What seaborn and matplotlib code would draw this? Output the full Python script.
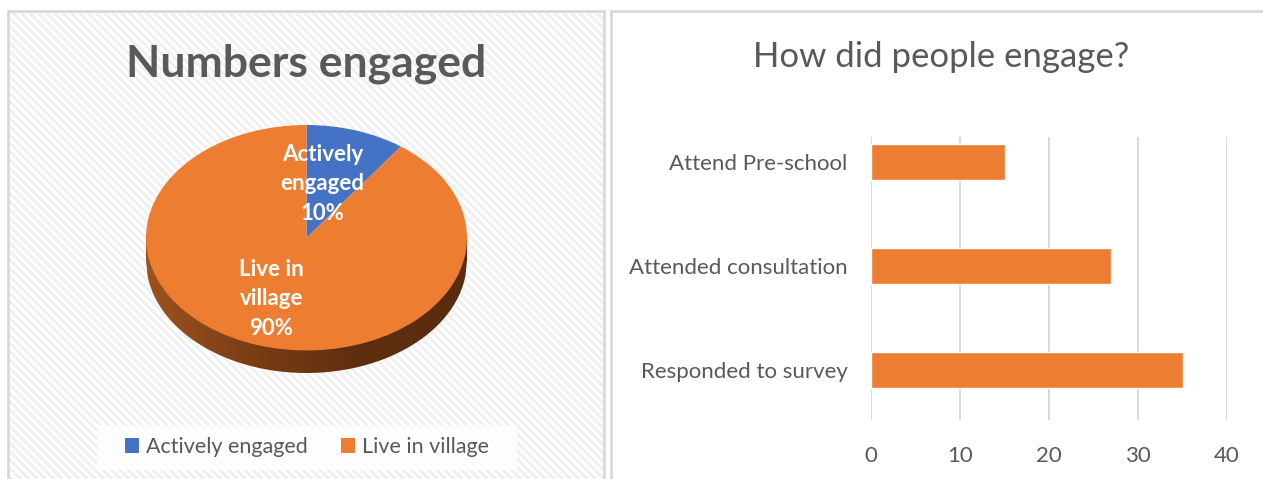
import textwrap
import numpy as np
import matplotlib.pyplot as plt
import seaborn as sns
from matplotlib.patches import Rectangle, Polygon
from matplotlib.colors import LinearSegmentedColormap

# pie data (left panel)
pie_labels = ['Actively engaged', 'Live in village']
pie_values = [10, 90]
pie_colors = ['#4472C4', '#ED7D31']

# bar data (right panel)
bar_labels = ['Attend Pre-school', 'Attended consultation', 'Responded to survey']
bar_values = [15, 27, 35]
bar_ticks = [0, 10, 20, 30, 40]

sns.set_style('white')
plt.rcParams['font.family'] = ['Lato', 'DejaVu Sans']
plt.rcParams['hatch.linewidth'] = 2.2

W, H = 1263, 479
grey = '#595959'
fig = plt.figure(figsize=(W / 100, H / 100), dpi=100)


def box(x0, y0, x1, y1):
    # pixel box -> figure fraction [left, bottom, width, height]
    return [x0 / W, 1 - y1 / H, (x1 - x0) / W, (y1 - y0) / H]


# panel backgrounds
l, b, w, h = box(8, 11, 604, 481)
fig.patches.append(Rectangle((l, b), w, h, transform=fig.transFigure, facecolor='white',
                             edgecolor='#f0f0f0', hatch='\\\\\\\\', linewidth=0, zorder=-3))
fig.patches.append(Rectangle((l, b), w, h, transform=fig.transFigure, fill=False,
                             edgecolor='#d9d9d9', linewidth=2, zorder=-1))
l, b, w, h = box(611, 11, 1266, 481)
fig.patches.append(Rectangle((l, b), w, h, transform=fig.transFigure, facecolor='white',
                             edgecolor='#d9d9d9', linewidth=2, zorder=-1))
# legend background box
l, b, w, h = box(97, 425, 517, 470)
fig.patches.append(Rectangle((l, b), w, h, transform=fig.transFigure, facecolor='white',
                             edgecolor='none', alpha=0.85, zorder=-2))

# Pie chart - tilted to look like the excel 3d pie
ax1 = fig.add_axes(box(146, 125, 467, 373))
ax1.patch.set_alpha(0)
depth = 0.2
xs = np.linspace(-1, 1, 200)
side = np.vstack([np.column_stack([xs[::-1], np.zeros_like(xs)]),
                  np.column_stack([xs, -depth - np.sqrt(1 - xs ** 2)])])
side_patch = Polygon(side, closed=True, facecolor='none', edgecolor='none')
ax1.add_patch(side_patch)
side_cmap = LinearSegmentedColormap.from_list('side', ['#9c521d', '#7a3d14', '#5e2e0f', '#5a2c0e'])
im = ax1.imshow(np.linspace(0, 1, 100)[None, :], extent=(-1, 1, -1 - depth, 0),
                aspect='auto', cmap=side_cmap)
im.set_clip_path(side_patch)

wedges, _ = ax1.pie(pie_values, colors=pie_colors, startangle=90, counterclock=False,
                    wedgeprops=dict(linewidth=0))
ax1.set_aspect('auto')
ax1.set_xlim(-1, 1)
ax1.set_ylim(-1 - depth, 1)
ax1.axis('off')

total = sum(pie_values)
label_pos = [(0.10, 0.48), (-0.22, -0.54)]
for lab, val, (px, py) in zip(pie_labels, pie_values, label_pos):
    ax1.text(px, py, textwrap.fill(lab, 8) + '\n' + f'{val / total:.0%}', ha='center', va='center',
             color='white', fontsize=16, fontweight='bold', linespacing=1.5)

ax1.legend(wedges, pie_labels, loc='center', bbox_to_anchor=(307 / W, 1 - 447 / H),
           bbox_transform=fig.transFigure, ncol=2, frameon=False, fontsize=15.5,
           handlelength=0.65, handleheight=0.65, handletextpad=0.35, columnspacing=1.5,
           borderpad=0, borderaxespad=0, labelcolor=grey)

fig.text(306 / W, 1 - 77 / H, 'Numbers engaged', ha='center', va='baseline', fontsize=32,
         fontweight='bold', color=grey)

# Horizontal bar chart
ax2 = fig.add_axes(box(871, 137, 1227, 420))
ax2.patch.set_alpha(0)
sns.barplot(x=bar_values, y=bar_labels, orient='h', color='#ED7D31', saturation=1,
            width=0.35, ax=ax2)
ax2.set_xlim(0, 40)
ax2.set_ylim(2.48, -0.24)
ax2.set_xticks(bar_ticks)
ax2.grid(axis='x', color='#d9d9d9', linewidth=1.4)
ax2.set_axisbelow(True)
sns.despine(ax=ax2, left=True, bottom=True)
ax2.tick_params(axis='both', length=0, labelsize=16, colors=grey)
ax2.tick_params(axis='y', pad=17)
ax2.tick_params(axis='x', pad=19)
ax2.set_xlabel('')
ax2.set_ylabel('')

fig.text(941 / W, 1 - 67 / H, 'How did people engage?', ha='center', va='baseline',
         fontsize=25, color=grey)

fig.savefig('out.png', dpi=100)
